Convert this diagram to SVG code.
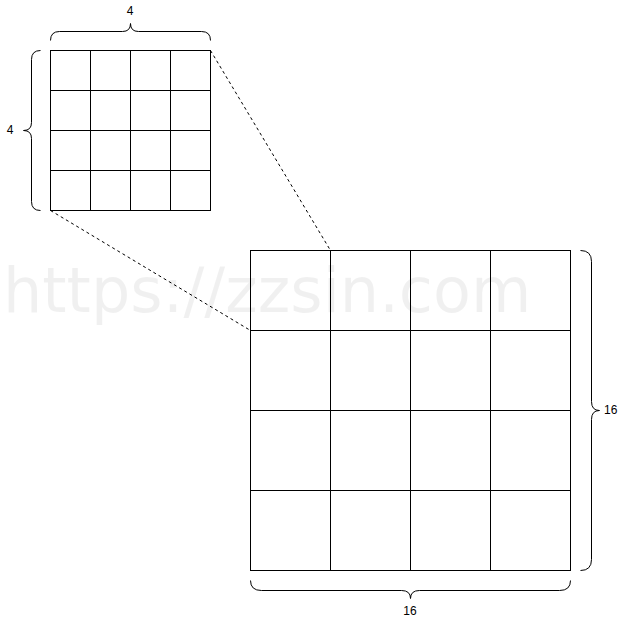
<svg xmlns="http://www.w3.org/2000/svg" width="621" height="621" viewBox="0 0 621 621">
<style>
.grid{fill:#fff;stroke:#000;stroke-width:1}
.ln{stroke:#000;stroke-width:1;fill:none}
.brace{stroke:#000;stroke-width:1;fill:none}
.dash{stroke:#000;stroke-width:1;stroke-dasharray:3 3;fill:none}
.lbl{font-family:"Liberation Sans",Arial,sans-serif;font-size:12px;fill:#000}
.wm{font-family:"DejaVu Sans",sans-serif;font-size:62px;fill:#000;fill-opacity:0.06}
</style>
<rect width="621" height="621" fill="#fff"/>
<g transform="translate(0.5,0.5)">
<g id="connectors">
<line class="dash" x1="210" y1="50" x2="330" y2="250"/>
<line class="dash" x1="50" y1="210" x2="250" y2="330"/>
</g>
<g id="small-grid">
<rect class="grid" x="50" y="50" width="160" height="160"/>
<path class="ln" d="M90,50V210M130,50V210M170,50V210M50,90H210M50,130H210M50,170H210"/>
</g>
<g id="big-grid">
<rect class="grid" x="250" y="250" width="320" height="320"/>
<path class="ln" d="M330,250V570M410,250V570M490,250V570M250,330H570M250,410H570M250,490H570"/>
</g>
<g id="brace-top">
<path class="brace" d="M50,40Q50,31 59,31L122,31Q130,31 130,23Q130,31 138,31L201,31Q210,31 210,40"/>
</g>
<g id="brace-left">
<path class="brace" d="M40,50Q31,50 31,59L31,122Q31,130 23,130Q31,130 31,138L31,201Q31,210 40,210"/>
</g>
<g id="brace-right">
<path class="brace" d="M580,250Q591,250 591,261L591,401Q591,410 599,410Q591,410 591,419L591,559Q591,570 580,570"/>
</g>
<g id="brace-bottom">
<path class="brace" d="M250,580Q250,590 261,590L401,590Q410,590 410,598Q410,590 419,590L559,590Q570,590 570,580"/>
</g>
</g>
<g id="labels">
<text class="lbl" x="130" y="15" text-anchor="middle">4</text>
<text class="lbl" x="10" y="134" text-anchor="middle">4</text>
<text class="lbl" x="604" y="414">16</text>
<text class="lbl" x="410" y="615" text-anchor="middle">16</text>
</g>
<text class="wm" x="3" y="312">https://zzsin.com</text>
</svg>
